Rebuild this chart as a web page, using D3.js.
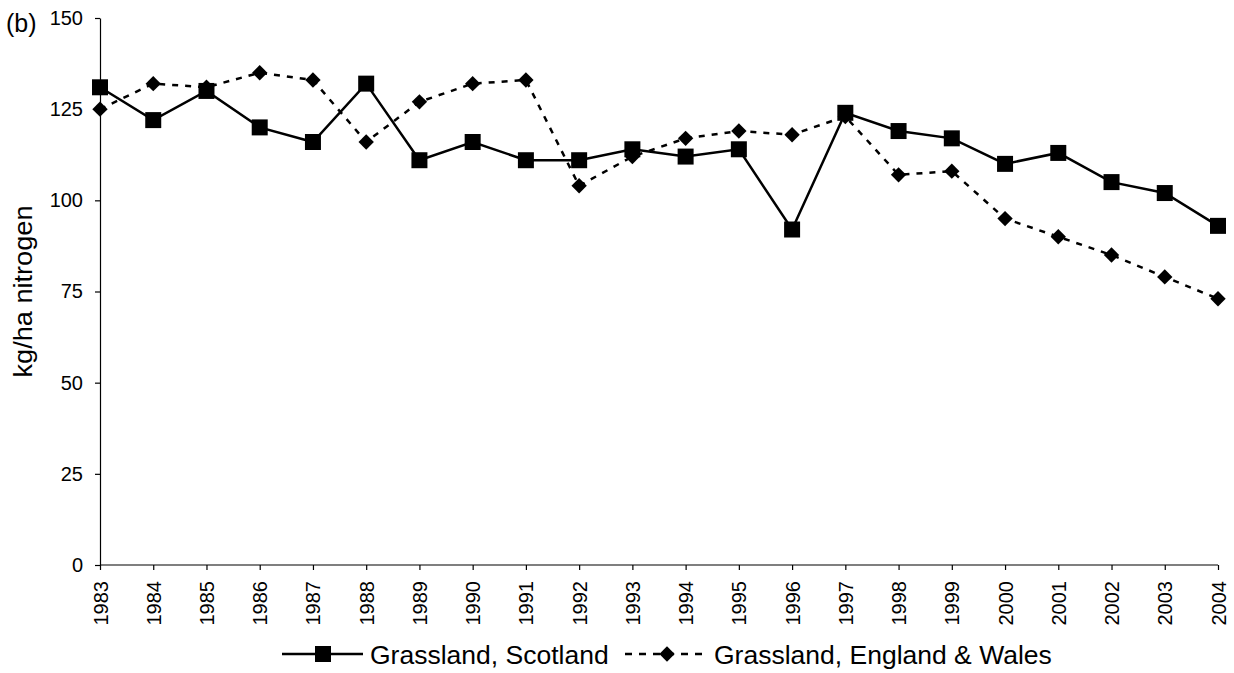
<!DOCTYPE html>
<html>
<head>
<meta charset="utf-8">
<script src="https://cdn.jsdelivr.net/npm/d3@7"></script>
<style>
  html, body { margin: 0; padding: 0; background: #fff; }
  svg { display: block; font-family: "Liberation Sans", Arial, sans-serif; }
</style>
</head>
<body>
<svg id="chart" width="1234" height="673"></svg>
<script>
// Annual nitrogen application on grassland, kg/ha
const years = [1983, 1984, 1985, 1986, 1987, 1988, 1989, 1990, 1991, 1992, 1993,
               1994, 1995, 1996, 1997, 1998, 1999, 2000, 2001, 2002, 2003, 2004];
const scotland = [131, 122, 130, 120, 116, 132, 111, 116, 111, 111, 114,
                  112, 114, 92, 124, 119, 117, 110, 113, 105, 102, 93];
const englandWales = [125, 132, 131, 135, 133, 116, 127, 132, 133, 104, 112,
                      117, 119, 118, 123, 107, 108, 95, 90, 85, 79, 73];
const yTicks = [0, 25, 50, 75, 100, 125, 150];
const seriesNames = ["Grassland, Scotland", "Grassland, England & Wales"];

const FONT = "Liberation Sans, Arial, sans-serif";
const svg = d3.select("#chart");
const margin = { left: 100, right: 16, top: 18, bottom: 108 };
const W = 1234, H = 673;

const x = d3.scalePoint()
  .domain(years)
  .range([margin.left, W - margin.right]);
const y = d3.scaleLinear()
  .domain([0, 150])
  .range([H - margin.bottom, margin.top]);

// Y axis
const yAxis = svg.append("g")
  .attr("transform", `translate(${margin.left},0)`)
  .call(d3.axisLeft(y).tickValues(yTicks).tickSize(5).tickSizeOuter(0).tickPadding(12));
yAxis.select(".domain").attr("stroke", "#000").attr("stroke-width", 1.2);
yAxis.selectAll(".tick line").attr("stroke", "#000").attr("stroke-width", 1.2);
yAxis.selectAll("text").attr("font-size", 20).attr("fill", "#000")
  .attr("font-family", FONT);

// X axis
const xAxis = svg.append("g")
  .attr("transform", `translate(0,${y(0)})`)
  .call(d3.axisBottom(x).tickSize(5).tickSizeOuter(0).tickPadding(6));
xAxis.select(".domain").attr("stroke", "#000").attr("stroke-width", 1.2)
  .attr("d", `M${margin.left},0H${W - margin.right}`);
xAxis.selectAll(".tick line").attr("stroke", "#000").attr("stroke-width", 1.2);
xAxis.selectAll("text")
  .attr("font-size", 20).attr("fill", "#000")
  .attr("font-family", FONT)
  .attr("transform", "rotate(-90)")
  .attr("text-anchor", "end")
  .attr("dy", "0.35em")
  .attr("x", -16)
  .attr("y", 0);

// Axis title and panel label
svg.append("text")
  .attr("transform", `translate(32,${(y(0) + y(150)) / 2}) rotate(-90)`)
  .attr("text-anchor", "middle")
  .attr("font-size", 25)
  .attr("textLength", 172)
  .attr("lengthAdjust", "spacingAndGlyphs")
  .text("kg/ha nitrogen");
svg.append("text")
  .attr("x", 6).attr("y", 32)
  .attr("font-size", 25)
  .text("(b)");

// Lines
const line = d3.line().x((d, i) => x(years[i])).y(d => y(d));

svg.append("path")
  .datum(englandWales)
  .attr("fill", "none").attr("stroke", "#000").attr("stroke-width", 2.5)
  .attr("stroke-dasharray", "6,7")
  .attr("d", line);

svg.append("path")
  .datum(scotland)
  .attr("fill", "none").attr("stroke", "#000").attr("stroke-width", 2.5)
  .attr("d", line);

// Markers
const diamond = d3.symbol().type(d3.symbolSquare).size(118);
svg.append("g").selectAll("path")
  .data(englandWales)
  .join("path")
  .attr("d", diamond)
  .attr("transform", (d, i) => `translate(${x(years[i])},${y(d)}) rotate(45)`)
  .attr("fill", "#000");

const square = d3.symbol().type(d3.symbolSquare).size(256);
svg.append("g").selectAll("path")
  .data(scotland)
  .join("path")
  .attr("d", square)
  .attr("transform", (d, i) => `translate(${x(years[i])},${y(d)})`)
  .attr("fill", "#000");

// Legend
const legY = 654;
const leg = svg.append("g");
leg.append("line")
  .attr("x1", 282).attr("x2", 363).attr("y1", legY).attr("y2", legY)
  .attr("stroke", "#000").attr("stroke-width", 2.5);
leg.append("path").attr("d", square)
  .attr("transform", `translate(323,${legY})`).attr("fill", "#000");
leg.append("text").attr("x", 370).attr("y", legY + 9.5)
  .attr("font-size", 26.5).text(seriesNames[0]);

leg.append("line")
  .attr("x1", 625).attr("x2", 708).attr("y1", legY).attr("y2", legY)
  .attr("stroke", "#000").attr("stroke-width", 2.5)
  .attr("stroke-dasharray", "7,7");
leg.append("path").attr("d", diamond)
  .attr("transform", `translate(667,${legY}) rotate(45)`).attr("fill", "#000");
leg.append("text").attr("x", 714).attr("y", legY + 9.5)
  .attr("font-size", 26.5).text(seriesNames[1]);
</script>
</body>
</html>
